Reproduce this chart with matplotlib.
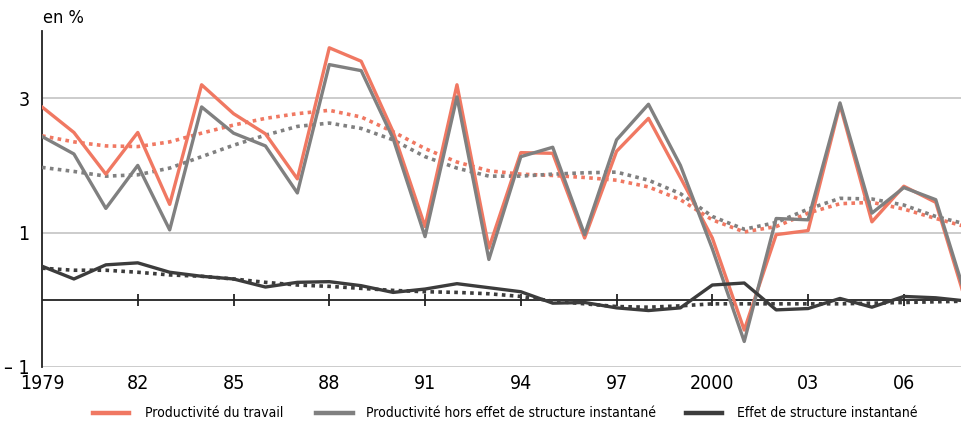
import numpy as np
import matplotlib
matplotlib.use("Agg")
import matplotlib.pyplot as plt
from matplotlib.lines import Line2D

plt.rcParams['font.family'] = ['DejaVu Sans']
plt.rcParams['font.stretch'] = 'condensed'

# data (en %)
years = list(range(1979, 2009))

productivite = [2.87, 2.49, 1.87, 2.49, 1.42, 3.20, 2.77, 2.47, 1.80, 3.75,
                3.55, 2.50, 1.09, 3.20, 0.77, 2.19, 2.18, 0.92, 2.21, 2.70,
                1.82, 0.92, -0.45, 0.97, 1.03, 2.90, 1.16, 1.69, 1.45, -0.12]
hors_structure = [2.43, 2.17, 1.36, 2.00, 1.04, 2.87, 2.48, 2.29, 1.59, 3.50,
                  3.41, 2.40, 0.94, 3.02, 0.60, 2.13, 2.27, 0.97, 2.38, 2.91,
                  2.00, 0.76, -0.62, 1.21, 1.19, 2.93, 1.29, 1.67, 1.49, -0.04]
effet_structure = [0.50, 0.31, 0.52, 0.55, 0.41, 0.35, 0.31, 0.19, 0.26, 0.27,
                   0.21, 0.11, 0.16, 0.24, 0.18, 0.12, -0.05, -0.04, -0.12, -0.16,
                   -0.12, 0.22, 0.25, -0.15, -0.13, 0.02, -0.11, 0.05, 0.03, -0.02]

# smoothed trends
tend_productivite = [2.44, 2.35, 2.29, 2.28, 2.35, 2.48, 2.60, 2.70, 2.77, 2.82,
                     2.72, 2.50, 2.25, 2.05, 1.92, 1.87, 1.85, 1.82, 1.78, 1.68,
                     1.49, 1.19, 1.01, 1.09, 1.29, 1.43, 1.45, 1.35, 1.21, 1.08]
tend_hors_structure = [1.97, 1.91, 1.84, 1.86, 1.96, 2.13, 2.30, 2.45, 2.58, 2.63,
                       2.55, 2.38, 2.13, 1.96, 1.84, 1.84, 1.87, 1.89, 1.90, 1.78,
                       1.58, 1.24, 1.05, 1.15, 1.35, 1.51, 1.50, 1.41, 1.24, 1.12]
tend_effet_structure = [0.47, 0.44, 0.44, 0.41, 0.37, 0.35, 0.31, 0.26, 0.22, 0.20,
                        0.17, 0.14, 0.12, 0.11, 0.09, 0.05, -0.02, -0.06, -0.10, -0.11,
                        -0.09, -0.06, -0.06, -0.06, -0.06, -0.06, -0.05, -0.04, -0.03, -0.02]

tick_years = [1979, 1982, 1985, 1988, 1991, 1994, 1997, 2000, 2003, 2006]
tick_labels = ['1979', '82', '85', '88', '91', '94', '97', '2000', '03', '06']

series_names = ['Productivité du travail',
                'Productivité hors effet de structure instantané',
                'Effet de structure instantané']

c_red = '#F07862'
c_gray = '#808080'
c_dark = '#3C3C3C'

W, H = 961, 422
fig = plt.figure(figsize=(W / 100, H / 100), dpi=100)
ax = fig.add_axes([42 / W, 55 / H, 1 - 42 / W, 336 / H])

# gridlines
for yv in [3, 1, -1]:
    ax.axhline(yv, color='#C4C4C4', lw=1.2, zorder=1)
ax.axhline(0, color='#222222', lw=1.3, zorder=2)
ax.plot(tick_years[1:], [0] * (len(tick_years) - 1), ls='none', marker='|',
        ms=8, mew=1.3, color='#222222', zorder=2)

# trends (dotted)
dots = (0, (1, 1.2))
ax.plot(years, tend_productivite, color=c_red, lw=2.6, ls=dots, zorder=3)
ax.plot(years, tend_hors_structure, color=c_gray, lw=2.6, ls=dots, zorder=3)
ax.plot(years, tend_effet_structure, color=c_dark, lw=2.6, ls=dots, zorder=3)

# series
ax.plot(years, productivite, color=c_red, lw=2.4, zorder=4)
ax.plot(years, hors_structure, color=c_gray, lw=2.4, zorder=5)
ax.plot(years, effet_structure, color=c_dark, lw=2.4, zorder=5)

ax.set_xlim(1979, 1979 + (W - 42) / 31.92)
ax.set_ylim(-1, 4)

for s in ['top', 'right', 'bottom']:
    ax.spines[s].set_visible(False)
ax.spines['left'].set_color('#222222')
ax.spines['left'].set_linewidth(1.3)

ax.set_yticks([3, 1, -1])
ax.set_yticklabels(['3', '1', '\u2013 1'], fontsize=14)
ax.tick_params(axis='y', length=0, pad=9)
ax.set_xticks(tick_years)
ax.set_xticklabels(tick_labels, fontsize=14)
ax.tick_params(axis='x', length=0, pad=5)

fig.text(43 / W, 1 - 18 / H, 'en %', fontsize=13, ha='left', va='center')

# legend laid out by hand, one handle and one label per series
leg_y = 1 - 413 / H
leg_handles = [(93, 129), (316, 353), (686, 722)]
leg_text_x = [145, 366, 737]
for (x0, x1), tx, name, col in zip(leg_handles, leg_text_x, series_names,
                                   [c_red, c_gray, c_dark]):
    fig.add_artist(Line2D([x0 / W, x1 / W], [leg_y, leg_y], color=col, lw=3.2,
                          transform=fig.transFigure))
    fig.text(tx / W, leg_y, name, fontsize=10, ha='left', va='center')

fig.savefig('out.png', dpi=100)
